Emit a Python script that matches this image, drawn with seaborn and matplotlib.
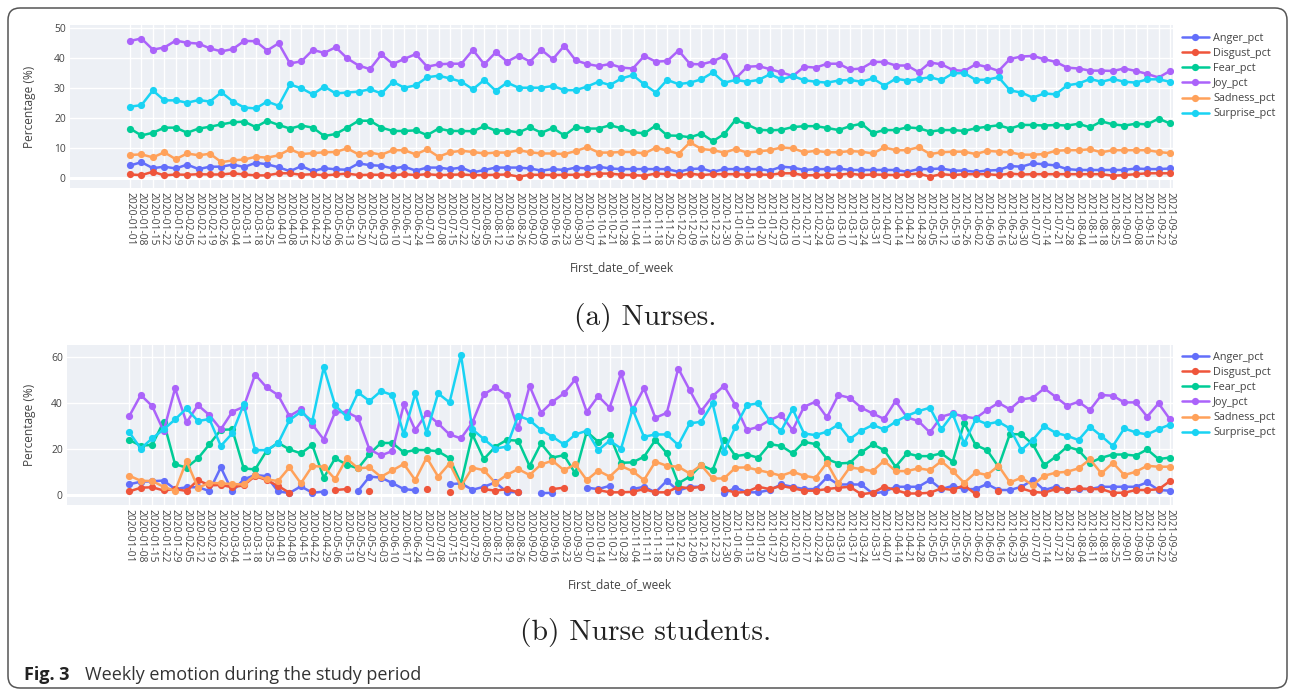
import numpy as np
import pandas as pd
import matplotlib
matplotlib.use("Agg")
import matplotlib.pyplot as plt
import seaborn as sns
from matplotlib.patches import FancyBboxPatch
from matplotlib.transforms import IdentityTransform

nan = np.nan

# ---------------- data ----------------
week_labels = list(pd.date_range("2020-01-01", periods=92, freq="7D").strftime("%Y-%m-%d"))
emotions = ["Anger_pct", "Disgust_pct", "Fear_pct", "Joy_pct", "Sadness_pct", "Surprise_pct"]
colors = ["#636EFA", "#EF553B", "#00CC96", "#AB63FA", "#FFA15A", "#19D3F3"]

# (a) Nurses
nurses_anger = [4.3, 5.4, 3.4, 3.9, 3.3, 4.6, 3.1, 3.9, 3.9, 4.6, 3.8, 5.2, 4.7, 3.7, 2.4, 4.1, 2.4, 3.4, 3.0, 2.9, 5.0, 4.4, 4.2, 3.3,
                3.9, 2.6, 3.6, 3.6, 3.1, 3.6, 2.0, 2.8, 3.6, 3.6, 3.6, 3.3, 2.6, 3.1, 2.8, 3.6, 3.3, 3.9, 3.3, 3.1, 3.1, 3.1, 3.1, 3.1, 2.2, 3.1, 3.3, 2.2, 3.1, 3.1, 3.1, 3.1, 2.6, 3.9,
                3.6, 2.8, 3.1, 3.1, 3.3, 2.8, 2.8, 2.8, 2.8, 2.8, 2.2, 3.1, 3.1, 3.3, 2.6, 2.6, 2.2, 2.6, 2.8, 4.1, 3.9, 5.0, 4.7, 4.3, 3.1, 2.8, 2.8, 2.8, 2.8, 2.8, 3.3, 3.1, 3.1, 3.3]
nurses_disgust = [1.3, 1.1, 2.2, 1.0, 1.3, 1.2, 1.4, 1.3, 1.3, 1.7, 1.3, 1.0, 1.0, 1.7, 1.7, 1.2, 1.4, 1.0, 1.3, 1.6, 1.1, 1.2, 1.2, 1.0,
                  1.4, 1.1, 1.4, 1.1, 1.2, 1.3, 1.1, 1.1, 1.2, 1.3, 0.6, 1.2, 1.2, 1.1, 1.2, 1.2, 1.3, 1.6, 1.6, 1.2, 1.1, 0.9, 1.6, 1.4, 1.0, 1.6, 1.1, 1.4, 1.4, 1.4, 1.2, 1.3, 1.2, 1.7,
                  1.7, 1.0, 1.1, 1.2, 1.2, 1.6, 1.1, 1.3, 1.2, 1.1, 1.3, 1.6, 0.6, 1.4, 1.1, 1.4, 1.4, 1.4, 1.1, 1.6, 1.3, 1.4, 1.4, 1.4, 1.4, 1.4, 1.4, 1.4, 0.9, 1.1, 1.4, 1.7, 1.7, 1.7]
nurses_fear = [16.6, 14.3, 15.2, 16.9, 16.9, 15.2, 16.6, 17.2, 18.0, 18.7, 18.9, 17.1, 19.2, 17.8, 16.6, 17.6, 16.9, 14.1, 14.8, 16.9, 19.2, 19.2, 16.9, 15.8,
               15.8, 16.0, 14.4, 16.6, 15.8, 15.8, 15.7, 17.4, 15.9, 15.9, 15.3, 17.0, 15.2, 16.8, 14.3, 17.1, 16.6, 16.6, 17.7, 16.7, 15.4, 15.0, 17.6, 14.3, 14.2, 13.7, 14.9, 12.4, 14.8, 19.6, 17.9, 16.2, 16.0, 16.2,
               17.1, 17.4, 17.4, 16.8, 16.1, 17.4, 18.2, 15.1, 16.1, 16.1, 17.0, 16.7, 15.6, 16.1, 16.1, 15.8, 16.7, 17.2, 17.7, 16.6, 17.8, 17.8, 17.6, 17.8, 17.6, 18.2, 17.0, 19.0, 18.0, 17.6, 18.2, 18.0, 19.9, 18.3]
nurses_joy = [45.8, 46.6, 42.9, 43.6, 45.9, 45.2, 44.9, 43.3, 42.3, 43.1, 45.8, 45.7, 42.6, 45.0, 38.3, 39.0, 42.8, 41.8, 43.7, 40.0, 37.6, 36.4, 41.3, 38.1,
              39.8, 41.4, 37.2, 38.0, 38.2, 38.2, 42.8, 38.0, 42.0, 38.9, 40.9, 38.9, 42.8, 39.7, 44.2, 39.3, 38.1, 37.4, 38.1, 36.9, 36.6, 40.8, 38.9, 39.1, 42.6, 38.1, 38.0, 39.0, 40.8, 33.3, 37.2, 37.4, 36.4, 35.3,
              34.1, 37.2, 36.9, 38.2, 38.2, 36.3, 36.6, 38.8, 38.8, 37.6, 37.6, 35.4, 38.6, 38.0, 36.1, 35.8, 38.0, 37.1, 35.8, 39.8, 40.6, 40.8, 39.7, 38.8, 36.9, 36.6, 35.9, 35.9, 35.8, 36.6, 35.8, 34.8, 33.6, 35.8]
nurses_sadness = [7.8, 8.0, 7.0, 8.7, 6.4, 8.3, 7.7, 8.2, 5.4, 6.0, 6.3, 7.2, 6.9, 7.7, 9.7, 8.1, 8.4, 8.7, 8.8, 10.0, 8.0, 8.6, 7.9, 9.4,
                  9.4, 8.0, 9.7, 7.2, 8.7, 9.2, 8.8, 8.3, 8.6, 8.6, 9.4, 8.7, 8.3, 8.3, 8.1, 9.1, 10.4, 8.6, 8.6, 8.8, 8.8, 8.3, 10.2, 9.3, 8.2, 12.0, 9.8, 9.4, 8.6, 9.8, 8.6, 9.0, 9.4, 10.3,
                  10.0, 8.7, 9.2, 8.7, 8.7, 9.1, 8.9, 8.3, 10.3, 9.4, 9.4, 10.4, 8.1, 8.7, 8.9, 8.9, 8.1, 9.2, 8.9, 8.7, 7.9, 7.9, 8.1, 9.2, 9.4, 9.4, 9.7, 8.7, 9.4, 9.4, 9.4, 9.4, 8.8, 8.4]
nurses_surprise = [23.9, 24.4, 29.3, 26.0, 26.0, 25.2, 26.1, 25.6, 28.7, 25.6, 23.6, 23.3, 25.6, 24.2, 31.3, 30.0, 28.0, 30.6, 28.3, 28.6, 28.9, 29.7, 28.3, 32.2,
                   30.2, 31.0, 33.7, 34.2, 33.3, 32.2, 29.7, 32.8, 29.2, 31.9, 30.2, 30.2, 30.2, 30.8, 29.4, 29.4, 30.6, 32.2, 31.1, 33.3, 34.4, 31.3, 28.6, 32.8, 31.4, 31.9, 33.0, 35.3, 31.9, 32.8, 32.2, 32.8, 34.7, 33.0,
                   34.1, 32.7, 32.2, 31.9, 32.6, 32.8, 32.2, 33.3, 30.9, 33.2, 32.6, 33.1, 33.7, 32.7, 35.0, 35.1, 32.8, 32.9, 33.7, 29.3, 28.6, 26.9, 28.3, 28.0, 31.0, 31.6, 33.1, 32.2, 33.1, 32.2, 31.9, 33.0, 33.0, 32.2]

# (b) Nurse students (nan = no value that week)
students_anger = [4.7, 5.8, 6.0, 6.3, 2.6, 3.4, 3.4, 1.8, 12.0, 1.6, 6.8, 8.7, 8.2, 1.6, 0.9, 3.8, 1.0, 1.5,
                  nan, nan, 1.8, 8.0, 7.6, 5.2, 2.6, 2.1, nan, nan, 4.7, 5.1, 2.3, 3.6, 5.5, 1.4, 1.2, nan, 0.8, 1.0,
                  nan, nan, 3.2, 2.6, 4.0, nan, 2.6, 3.6, 1.2, 6.2, 1.9, 3.6, 3.6, nan, 0.7, 3.2, 1.2, 1.2, 2.2, 4.6, 3.6,
                  2.6, 2.6, 7.7, 4.6, 4.6, 4.6, 0.7, 1.4, 3.6, 3.6, 3.6, 6.5, 2.6, 4.0, 2.6, 2.6, 4.8, 2.2, 2.2, 3.6, 6.5,
                  2.2, 3.6, 2.2, 2.6, 2.6, 3.6, 3.6, 3.6, 3.6, 5.5, 2.2, 1.9]
students_disgust = [1.6, 3.2, 3.4, 2.0, 2.6, 1.8, 6.5, 4.2, 4.4, 3.4, 4.2, 8.3, 6.5, 4.0, 1.0, nan, 1.9, nan,
                    2.2, 2.6, nan, 1.9, nan, nan, nan, nan, 2.6, nan, 1.2, nan, nan, 2.6, 1.9, 2.6, 1.2, nan, nan,
                    2.6, 3.2, nan, nan, 2.2, 1.2, 1.2, 1.4, 2.6, 1.2, 1.2, 3.6, 2.9, 3.6, nan,
                    2.6, 1.0, 1.4, 3.6, 2.6, 4.0, 3.0, 1.9, 1.9, 2.6, 3.2, 3.6, 0.4, 1.0, 3.6, 2.2, 0.7, 0.7, 1.0, 2.9, 2.2, 4.3, 0.4,
                    nan, 1.9, nan, 2.9, 1.4, 1.0, 2.6, 2.2, 2.9, 2.6, 2.6, 1.0, 1.0, 2.2, 2.2, 2.5, 6.1]
students_fear = [23.9, 21.4, 21.8, 31.8, 13.4, 11.9, 15.9, 22.0, 28.3, 28.5, 11.6, 11.1, 19.2, 22.7, 19.8, 18.1, 21.7, 7.5,
                 16.0, 13.2, 11.6, 17.8, 22.6, 22.6, 18.5, 19.6,
                 19.5, 19.0, 16.0, 5.0, 26.3, 15.6, 21.0, 23.9, 23.6, 12.6, 22.4, 16.3, 17.3, 9.4, 27.5, 23.1, 26.0, 14.0, 14.2, 16.6,
                 23.9, 18.1, 5.1, 8.0, 13.0, 10.8, 24.1, 16.9, 17.6, 16.2, 22.1, 21.3, 18.1,
                 23.1, 22.1, 15.6, 13.7, 14.0, 18.5, 22.0, 19.5, 12.3, 18.1, 16.9, 16.9, 18.1, 14.5, 31.4, 21.7, 19.5, 12.3, 26.5,
                 26.3, 22.1, 13.0, 16.6, 21.0, 19.5, 14.0, 16.2, 17.6, 17.6, 17.1, 19.8, 15.6, 16.3]
students_joy = [34.3, 43.4, 38.6, 27.8, 46.3, 31.5, 39.0, 34.7, 28.5, 36.1, 38.3, 52.3, 46.7, 43.4, 34.3, 37.2, 30.6, 24.1,
                36.0, 36.0, 33.5, 19.8, 17.2, 19.1, 39.3, 28.2,
                35.4, 31.1, 26.3, 24.6, 31.5, 43.7, 46.7, 43.4, 28.9, 47.3, 35.7, 40.5, 44.1, 50.2, 36.1, 42.9, 37.9, 52.8, 36.9, 46.3,
                33.5, 35.7, 54.9, 45.5, 36.4, 42.9, 47.4, 39.0, 28.2, 29.6, 32.5, 34.7, 28.2,
                38.3, 40.5, 33.7, 43.4, 42.2, 37.9, 35.4, 33.0, 40.8, 33.7, 32.1, 27.2, 34.0, 35.4, 34.0, 33.3, 36.9, 40.0, 37.2,
                41.5, 42.2, 46.3, 42.6, 38.7, 40.5, 36.9, 43.4, 43.1, 40.2, 40.2, 34.0, 39.8, 32.8]
students_sadness = [8.4, 6.2, 6.1, 3.6, 1.8, 14.8, 3.2, 5.3, 5.1, 4.8, 4.6, 8.7, 6.8, 6.1, 12.0, 5.1, 12.6, 12.3,
                    6.9, 15.9, 11.6, 12.0, 7.9, 10.7, 13.5, 6.5,
                    16.3, 8.0, 13.7, 3.8, 11.9, 10.8, 5.3, 8.7, 11.3, 8.7, 13.3, 14.9, 10.8, 13.3, 6.5, 10.6, 8.0, 12.6, 10.4, 6.5,
                    14.5, 12.7, 12.3, 9.4, 13.0, 7.2, 7.2, 11.9, 12.0, 10.8, 9.7, 8.4, 10.1,
                    8.4, 7.5, 14.0, 5.1, 12.0, 11.3, 10.4, 14.9, 10.4, 10.4, 11.6, 10.8, 14.7, 10.4, 5.3, 9.8, 8.7, 12.7, 5.5,
                    7.5, 4.3, 8.4, 9.7, 10.1, 11.6, 15.5, 9.4, 14.0, 8.7, 10.1, 12.7, 12.3, 12.3]
students_surprise = [27.2, 20.2, 24.6, 28.5, 32.8, 37.6, 32.1, 33.0, 21.3, 26.8, 39.3, 19.5, 19.5, 22.4, 32.5, 36.1, 32.1, 55.4,
                     38.9, 34.0, 44.5, 40.8, 45.1, 43.4, 26.3, 44.1,
                     27.0, 44.1, 40.2, 60.7, 28.5, 24.3, 20.2, 21.0, 34.4, 32.5, 28.2, 25.3, 22.0, 26.3, 27.9, 19.5, 23.6, 20.2, 37.2, 25.3,
                     26.3, 26.3, 21.7, 31.1, 31.8, 39.8, 18.8, 29.6, 39.0, 39.8, 32.1, 27.9, 37.3,
                     26.7, 26.0, 27.5, 30.6, 24.3, 27.9, 30.4, 28.5, 31.8, 34.4, 36.4, 37.9, 28.5, 35.1, 22.4, 32.8, 30.8, 31.8, 28.9,
                     19.5, 23.9, 29.9, 27.0, 25.7, 23.9, 29.6, 25.6, 21.3, 28.9, 27.2, 26.3, 28.6, 30.6]

nurses = dict(zip(emotions, [nurses_anger, nurses_disgust, nurses_fear, nurses_joy, nurses_sadness, nurses_surprise]))
students = dict(zip(emotions, [students_anger, students_disgust, students_fear, students_joy, students_sadness, students_surprise]))


def to_long(series):
    rows = []
    for name, vals in series.items():
        v = np.asarray(vals, dtype=float)
        assert len(v) == len(week_labels), (name, len(v))
        seg = np.cumsum(np.isnan(v))  # new run after every missing week
        for i in range(len(v)):
            if not np.isnan(v[i]):
                rows.append((i, v[i], name, int(seg[i])))
    return pd.DataFrame(rows, columns=["week", "value", "emotion", "seg"])


# ---------------- style ----------------
BG = "#EDF0F5"
sns.set_style("darkgrid", {"axes.facecolor": BG, "grid.color": "white"})
plt.rcParams["font.family"] = ["Open Sans", "DejaVu Sans"]
TXT = "#444444"

W, H = 1291, 691
fig = plt.figure(figsize=(W / 100, H / 100), dpi=100)
fig.patch.set_facecolor("white")

palette = dict(zip(emotions, colors))


def px(l, t, r, b):
    return [l / W, 1 - b / H, (r - l) / W, (b - t) / H]


panels = [
    dict(data=nurses, rect=px(70, 25, 1173, 188), xlim=(-5.25, 91.26), ylim=(-3.2, 51.1),
         yticks=[0, 10, 20, 30, 40, 50], leg_top=28),
    dict(data=students, rect=px(67, 345, 1173, 505), xlim=(-5.45, 91.26), ylim=(-4.3, 65.1),
         yticks=[0, 20, 40, 60], leg_top=347),
]

for p in panels:
    ax = fig.add_axes(p["rect"])
    df = to_long(p["data"])
    sns.lineplot(data=df, x="week", y="value", hue="emotion", hue_order=emotions,
                 palette=palette, units="seg", estimator=None, marker="o",
                 markersize=5.2, markeredgewidth=0, linewidth=1.8, ax=ax, legend=True)
    ax.axhline(0, color="white", lw=2.2, zorder=1)
    ax.set_xlim(*p["xlim"])
    ax.set_ylim(*p["ylim"])
    ax.set_xticks(range(len(week_labels)))
    ax.set_xticklabels(week_labels, rotation=-90, ha="center", va="top")
    ax.set_yticks(p["yticks"])
    ax.tick_params(axis="both", length=0, pad=3, labelsize=7.4, labelcolor=TXT)
    ax.grid(True, color="white", lw=1)
    ax.set_axisbelow(True)
    for s in ax.spines.values():
        s.set_visible(False)
    ax.set_xlabel("First_date_of_week", fontsize=8.6, color=TXT)
    ax.set_ylabel("Percentage (%)", fontsize=8.6, color=TXT)
    rect = p["rect"]
    ax_w_px = rect[2] * W
    ax_h_px = rect[3] * H
    ax_left_px = rect[0] * W
    ax.xaxis.set_label_coords(0.5, -(80) / ax_h_px)
    ax.xaxis.label.set_va("center")
    ax.yaxis.set_label_coords(-(ax_left_px - 30) / ax_w_px, 0.5)
    ax.yaxis.label.set_va("center")

    handles, labels = ax.get_legend_handles_labels()
    ax.get_legend().remove()
    leg = ax.legend(handles, labels, loc="upper left",
                    bbox_to_anchor=(1177 / W, 1 - p["leg_top"] / H), bbox_transform=fig.transFigure,
                    frameon=True, facecolor="white", edgecolor="white", framealpha=1,
                    fontsize=7.8, handlelength=2.5, handletextpad=0.4, labelspacing=0.38,
                    borderpad=0.45, borderaxespad=0, fancybox=False)
    for t in leg.get_texts():
        t.set_color(TXT)

# captions
fig.text(0.5, 1 - 325 / H, "(a) Nurses.", ha="center", va="baseline",
         family="cmr10", fontsize=21.3, color="#222222")
fig.text(0.5, 1 - 640 / H, "(b) Nurse students.", ha="center", va="baseline",
         family="cmr10", fontsize=21.3, color="#222222")
fig.text(24 / W, 1 - 680 / H, "Fig. 3", ha="left", va="baseline",
         fontsize=13, fontweight="bold", color="#222222")
fig.text(85 / W, 1 - 680 / H, "Weekly emotion during the study period", ha="left", va="baseline",
         fontsize=13, color="#333333")

# outer rounded frame
frame = FancyBboxPatch((8, 3), 1279, 680, boxstyle="round,pad=0,rounding_size=12",
                       transform=IdentityTransform(), facecolor="none", edgecolor="#555555",
                       linewidth=1.1, zorder=10)
fig.patches.append(frame)

fig.savefig("out.png", dpi=100, facecolor="white")
